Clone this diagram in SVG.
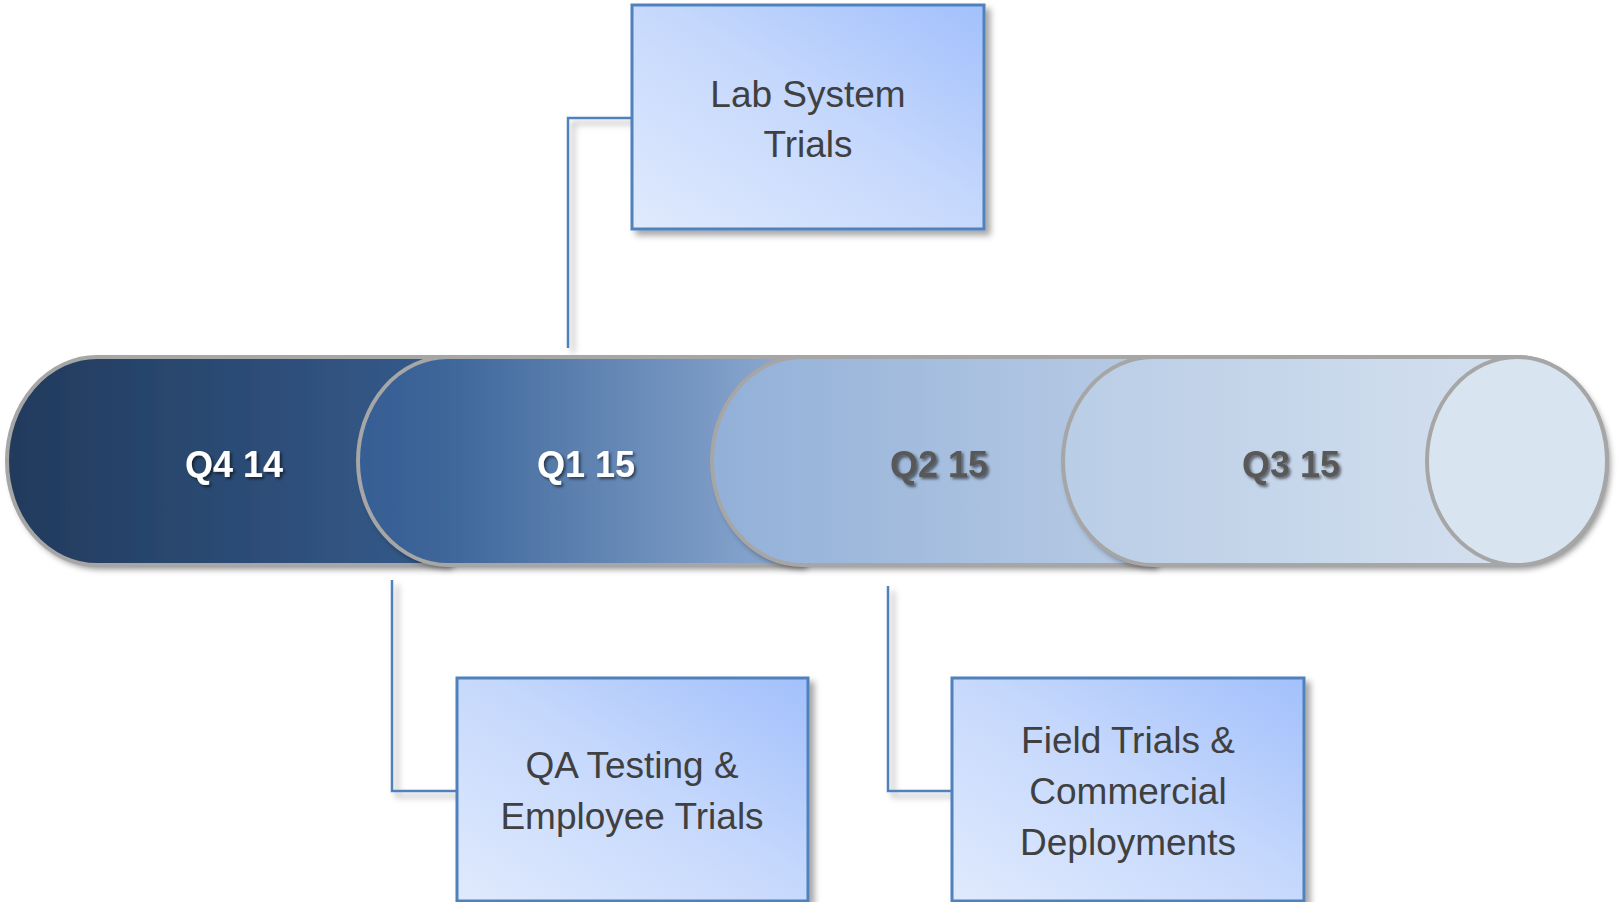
<svg xmlns="http://www.w3.org/2000/svg" width="1618" height="902" viewBox="0 0 1618 902">
<style>
.seg{stroke:none}
.edge{fill:none;stroke:#A6A6A6;stroke-width:4}
.qw{font-family:"Liberation Sans",Arial,sans-serif;font-weight:bold;font-size:36px;fill:#FFFFFF;text-anchor:middle}
.qg{font-family:"Liberation Sans",Arial,sans-serif;font-weight:bold;font-size:36px;fill:#595959;text-anchor:middle}
.box{fill:url(#boxg);stroke:#4F81BD;stroke-width:3}
.bt{font-family:"Liberation Sans",Arial,sans-serif;font-size:37px;fill:#404040;text-anchor:middle}
.conn{fill:none;stroke:#4F81BD;stroke-width:2.5}
</style>
<defs>
<linearGradient id="boxg" x1="0" y1="1" x2="1" y2="0">
<stop offset="0" stop-color="#E0EAFD"/>
<stop offset="0.55" stop-color="#C4D7FC"/>
<stop offset="1" stop-color="#A2C0FC"/>
</linearGradient>
<linearGradient id="g0" gradientUnits="userSpaceOnUse" x1="7" y1="0" x2="448" y2="0">
<stop offset="0" stop-color="#223A5C"/>
<stop offset="1" stop-color="#355B8C"/>
</linearGradient>
<linearGradient id="g1" gradientUnits="userSpaceOnUse" x1="358" y1="0" x2="802" y2="0">
<stop offset="0" stop-color="#355E94"/>
<stop offset="0.2" stop-color="#3E6699"/>
<stop offset="1" stop-color="#8FACD4"/>
</linearGradient>
<linearGradient id="g2" gradientUnits="userSpaceOnUse" x1="712" y1="0" x2="1153" y2="0">
<stop offset="0" stop-color="#92B0D8"/>
<stop offset="1" stop-color="#B8CBE5"/>
</linearGradient>
<linearGradient id="g3" gradientUnits="userSpaceOnUse" x1="1063" y1="0" x2="1517" y2="0">
<stop offset="0" stop-color="#B9CDE6"/>
<stop offset="1" stop-color="#D4E0EF"/>
</linearGradient>
<filter id="sh" x="-10%" y="-10%" width="130%" height="130%">
<feDropShadow dx="3" dy="4" stdDeviation="3" flood-color="#000" flood-opacity="0.45"/>
</filter>
<filter id="bsh" x="-10%" y="-10%" width="130%" height="130%">
<feDropShadow dx="5" dy="5" stdDeviation="3" flood-color="#000" flood-opacity="0.35"/>
</filter>
<filter id="tsh" x="-20%" y="-20%" width="140%" height="160%">
<feDropShadow dx="2" dy="2" stdDeviation="1.5" flood-color="#000" flood-opacity="0.55"/>
</filter>
</defs>
<rect width="1618" height="902" fill="#FFFFFF"/>

<g id="connectors">
<path class="conn" filter="url(#bsh)" d="M633,118 H568 V348"/>
<path class="conn" filter="url(#bsh)" d="M392,580 V791 H457"/>
<path class="conn" filter="url(#bsh)" d="M888,586 V791 H952"/>
</g>

<g id="timeline">
<g id="q4">
<path filter="url(#sh)" fill="url(#g0)" d="M97,357 H450 V565 H97 A90,104 0 0 1 97,357 Z"/>
<path class="edge" d="M450,357 H97 A90,104 0 0 0 97,565 H450"/>
<text class="qw" x="234" y="477" filter="url(#tsh)">Q4 14</text>
</g>
<g id="q1">
<path filter="url(#sh)" fill="url(#g1)" d="M448,357 H804 V565 H448 A90,104 0 0 1 448,357 Z"/>
<path class="edge" d="M804,357 H448 A90,104 0 0 0 448,565 H804"/>
<text class="qw" x="586" y="477" filter="url(#tsh)">Q1 15</text>
</g>
<g id="q2">
<path filter="url(#sh)" fill="url(#g2)" d="M802,357 H1155 V565 H802 A90,104 0 0 1 802,357 Z"/>
<path class="edge" d="M1155,357 H802 A90,104 0 0 0 802,565 H1155"/>
<text class="qg" x="939" y="477" filter="url(#tsh)">Q2 15</text>
</g>
<g id="q3">
<path filter="url(#sh)" fill="url(#g3)" d="M1153,357 H1517 A90,104 0 0 1 1517,565 H1153 A90,104 0 0 1 1153,357 Z"/>
<path class="edge" d="M1517,357 H1153 A90,104 0 0 0 1153,565 H1517 A90,104 0 0 0 1517,357"/>
<ellipse cx="1517" cy="461" rx="90" ry="104" fill="#D9E4F1" stroke="#A6A6A6" stroke-width="4"/>
<text class="qg" x="1291" y="477" filter="url(#tsh)">Q3 15</text>
</g>
</g>

<g id="lab">
<rect class="box" filter="url(#bsh)" x="632" y="5" width="352" height="224"/>
<text class="bt" x="808" y="107">Lab System</text>
<text class="bt" x="808" y="157">Trials</text>
</g>

<g id="qa">
<rect class="box" filter="url(#bsh)" x="457" y="678" width="351" height="223"/>
<text class="bt" x="632" y="778">QA Testing &amp;</text>
<text class="bt" x="632" y="829">Employee Trials</text>
</g>

<g id="field">
<rect class="box" filter="url(#bsh)" x="952" y="678" width="352" height="223"/>
<text class="bt" x="1128" y="753">Field Trials &amp;</text>
<text class="bt" x="1128" y="804">Commercial</text>
<text class="bt" x="1128" y="855">Deployments</text>
</g>
</svg>
